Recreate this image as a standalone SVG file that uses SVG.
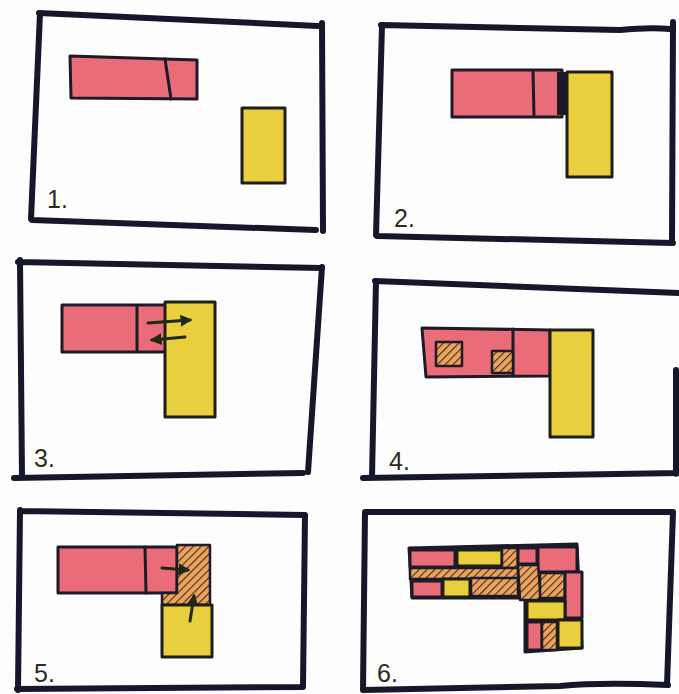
<svg xmlns="http://www.w3.org/2000/svg" width="679" height="694" viewBox="0 0 679 694">
<defs>
<pattern id="hatch" width="5.5" height="5.5" patternUnits="userSpaceOnUse" patternTransform="rotate(45)">
<rect width="5.5" height="5.5" fill="#e9a461"/>
<line x1="0" y1="0" x2="0" y2="5.5" stroke="#4a2a12" stroke-width="2.2"/>
</pattern>
<marker id="ah" viewBox="0 0 10 10" refX="8" refY="5" markerWidth="4" markerHeight="4" orient="auto">
<path d="M0,0 L10,5 L0,10 z" fill="#1f2a14"/>
</marker>
</defs>
<style>
.frame{fill:none;stroke:#16172a;stroke-width:6;stroke-linecap:round;stroke-linejoin:round}
.red{fill:#eb6c79;stroke:#1d1a2a;stroke-width:3;stroke-linejoin:round}
.yel{fill:#e9cf3e;stroke:#1d1f16;stroke-width:3;stroke-linejoin:round}
.hat{fill:url(#hatch);stroke:#1d1a2a;stroke-width:2.5;stroke-linejoin:round}
.div{fill:none;stroke:#1d1a2a;stroke-width:3;stroke-linecap:round}
.num{font-family:"Liberation Sans","DejaVu Sans",sans-serif;font-size:25px;fill:#2b2b1e}
.arr{fill:none;stroke:#1f2a14;stroke-width:3;stroke-linecap:round}
</style>
<rect width="679" height="694" fill="#fdfdfd"/>

<g id="panel1">
<path class="frame" d="M39,13 L318,26 M322,23 L323,231 M32,220 L316,230 M40,13 L31,219"/>
<polygon class="red" points="70,56 197,60 197,99 71,98"/>
<path class="div" d="M165,59 L171,99"/>
<rect class="yel" x="242" y="108" width="43" height="75"/>
<text class="num" x="47" y="208">1.</text>
</g>

<g id="panel2">
<path class="frame" d="M381,25 L620,30 Q650,27 670,29 M673,22 L672,241 M377,236 L673,243 M382,26 L376,235"/>
<rect class="red" x="452" y="70" width="110" height="47"/>
<path class="div" d="M533,72 L534,116"/>
<rect x="557" y="72" width="10" height="43" fill="#1d1a2a"/>
<rect class="yel" x="567" y="72" width="45" height="105"/>
<text class="num" x="394" y="227">2.</text>
</g>

<g id="panel3">
<path class="frame" d="M18,262 L322,268 M20,260 L22,478 M14,478 L303,473 M322,267 L308,472"/>
<rect class="red" x="62" y="305" width="105" height="47"/>
<path class="div" d="M137,306 L137,351"/>
<rect class="yel" x="165" y="302" width="50" height="115"/>
<text class="num" x="34" y="467">3.</text>
</g>

<g id="panel4">
<path class="frame" d="M375,281 L679,293 M376,281 L372,477 M363,478 L679,473 M676,370 L676,474"/>
<polygon class="red" points="422,328 550,330 550,376 426,377"/>
<path class="div" d="M513,329 L513,375"/>
<rect class="hat" x="436" y="342" width="26" height="24"/>
<rect class="hat" x="492" y="351" width="21" height="22"/>
<rect class="yel" x="550" y="330" width="43" height="107"/>
<text class="num" x="389" y="470">4.</text>
</g>

<g id="panel5">
<path class="frame" d="M20,511 L305,515 M20,510 L18,690 M17,689 L303,687 M305,515 L303,687"/>
<rect class="red" x="58" y="547" width="119" height="46"/>
<path class="div" d="M145,547 L146,593"/>
<polygon class="hat" points="177,545 210,545 210,605 162,605 162,593 177,593"/>
<rect class="yel" x="162" y="605" width="50" height="52"/>
<text class="num" x="34" y="682">5.</text>
</g>

<g id="panel6">
<path class="frame" d="M365,512 L673,512 M365,512 L363,690 M363,690 L560,686 Q600,682 668,685 M673,512 L667,685"/>
<polygon points="409,548 577,544 582,648 525,652 525,598 412,598" fill="#1d1a2a" stroke="#1d1a2a" stroke-width="3" stroke-linejoin="round"/>
<rect class="red" x="410" y="550" width="45" height="17" fill="#ea5866"/>
<rect class="yel" x="457" y="550" width="45" height="16"/>
<rect class="hat" x="502" y="548" width="16" height="20"/>
<rect class="hat" x="410" y="568" width="108" height="11"/>
<rect class="red" x="412" y="581" width="30" height="16"/>
<rect class="yel" x="443" y="579" width="27" height="18"/>
<rect class="hat" x="471" y="578" width="47" height="18"/>
<rect class="red" x="518" y="548" width="19" height="16"/>
<rect class="red" x="538" y="547" width="39" height="25"/>
<polygon class="hat" points="518,565 538,565 541,600 520,600"/>
<rect class="hat" x="540" y="573" width="25" height="25"/>
<rect class="red" x="565" y="572" width="17" height="46"/>
<rect class="yel" x="527" y="601" width="38" height="19"/>
<rect class="red" x="527" y="622" width="15" height="28"/>
<rect class="hat" x="542" y="622" width="15" height="28"/>
<rect class="yel" x="558" y="620" width="24" height="28"/>
<text class="num" x="377" y="682">6.</text>
</g>

<g id="connectors">
<path class="arr" d="M148,323 L190,320" marker-end="url(#ah)"/>
<path class="arr" d="M185,337 L152,340" marker-end="url(#ah)"/>
<path class="arr" d="M162,568 L188,570" marker-end="url(#ah)"/>
<path class="arr" d="M190,621 L194,596" marker-end="url(#ah)"/>
</g>
</svg>
